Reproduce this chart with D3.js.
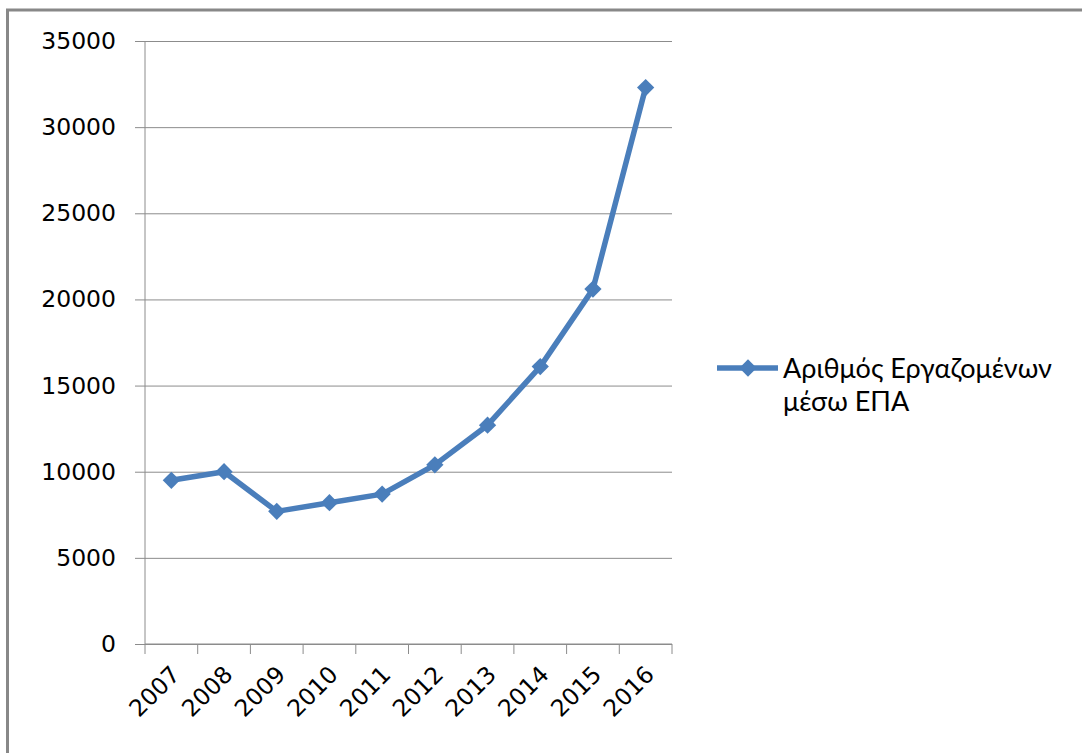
<!DOCTYPE html>
<html>
<head>
<meta charset="utf-8">
<script src="https://cdn.jsdelivr.net/npm/d3@7"></script>
<style>
  body { margin: 0; background: #fff; }
  svg { display: block; }
</style>
</head>
<body>
<div id="chart"></div>
<script>
const years = ['2007', '2008', '2009', '2010', '2011', '2012', '2013', '2014', '2015', '2016'];
const employed = [9500, 10000, 7700, 8200, 8700, 10400, 12700, 16100, 20600, 32300];
const yTicks = [0, 5000, 10000, 15000, 20000, 25000, 30000, 35000];
const seriesName = ['Αριθμός Εργαζομένων', 'μέσω ΕΠΑ'];

const width = 1082;
const height = 753;
const blue = '#4a7ebb';
const grid = '#8c8c8c';

const svg = d3.select('#chart')
  .append('svg')
  .attr('width', width)
  .attr('height', height);

// outer chart border (right and bottom fall outside the picture)
svg.append('rect')
  .attr('x', 7.5)
  .attr('y', 10)
  .attr('width', width + 10)
  .attr('height', height + 10)
  .attr('fill', 'none')
  .attr('stroke', '#888')
  .attr('stroke-width', 3);

const plot = { left: 145, right: 672, top: 41, bottom: 644 };

const x = d3.scaleBand()
  .domain(years)
  .range([plot.left, plot.right]);

const y = d3.scaleLinear()
  .domain([0, 35000])
  .range([plot.bottom, plot.top]);

// gridlines + y axis
const yAxis = svg.append('g')
  .attr('transform', `translate(${plot.left},0)`)
  .call(d3.axisLeft(y)
    .tickValues(yTicks)
    .tickSize(-(plot.right - plot.left))
    .tickPadding(29)
    .tickFormat(d3.format('d')));

yAxis.select('.domain').remove();
yAxis.selectAll('.tick line')
  .attr('stroke', grid)
  .attr('x1', -10);
yAxis.selectAll('.tick text')
  .attr('fill', '#000')
  .style('font-family', 'DejaVu Sans, sans-serif')
  .style('font-size', '23.5px');

svg.append('line')
  .attr('x1', plot.left)
  .attr('x2', plot.left)
  .attr('y1', plot.top)
  .attr('y2', plot.bottom)
  .attr('stroke', grid);

// x axis with ticks at category boundaries
const xAxis = svg.append('g')
  .attr('transform', `translate(0,${plot.bottom})`);

xAxis.append('line')
  .attr('x1', plot.left)
  .attr('x2', plot.right)
  .attr('stroke', grid);

xAxis.selectAll('.bound')
  .data(years.concat(['end']))
  .enter()
  .append('line')
  .attr('class', 'bound')
  .attr('x1', (d, i) => plot.left + i * x.bandwidth())
  .attr('x2', (d, i) => plot.left + i * x.bandwidth())
  .attr('y1', 0)
  .attr('y2', 10)
  .attr('stroke', grid);

xAxis.selectAll('.label')
  .data(years)
  .enter()
  .append('text')
  .attr('class', 'label')
  .attr('text-anchor', 'end')
  .attr('transform', d => `translate(${x(d) + x.bandwidth() / 2 + 10},${32}) rotate(-45)`)
  .style('font-family', 'DejaVu Sans, sans-serif')
  .style('font-size', '23.5px')
  .text(d => d);

// series line
const line = d3.line()
  .x((d, i) => x(years[i]) + x.bandwidth() / 2)
  .y(d => y(d));

svg.append('path')
  .datum(employed)
  .attr('d', line)
  .attr('fill', 'none')
  .attr('stroke', blue)
  .attr('stroke-width', 5.5)
  .attr('stroke-linejoin', 'round');

const diamond = d3.symbol().type(d3.symbolDiamond2).size(190);

svg.selectAll('.marker')
  .data(employed)
  .enter()
  .append('path')
  .attr('class', 'marker')
  .attr('d', diamond)
  .attr('transform', (d, i) => `translate(${x(years[i]) + x.bandwidth() / 2},${y(d)})`)
  .attr('fill', blue);

// legend
const legend = svg.append('g').attr('transform', 'translate(717,368)');

legend.append('line')
  .attr('x1', 0)
  .attr('x2', 61)
  .attr('stroke', blue)
  .attr('stroke-width', 5.5);

legend.append('path')
  .attr('d', diamond)
  .attr('transform', 'translate(31,0)')
  .attr('fill', blue);

legend.selectAll('text')
  .data(seriesName)
  .enter()
  .append('text')
  .attr('x', 66)
  .attr('y', (d, i) => 10 + i * 33)
  .style('font-family', 'Lato, sans-serif')
  .style('font-size', '27px')
  .attr('fill', '#000')
  .text(d => d);
</script>
</body>
</html>
